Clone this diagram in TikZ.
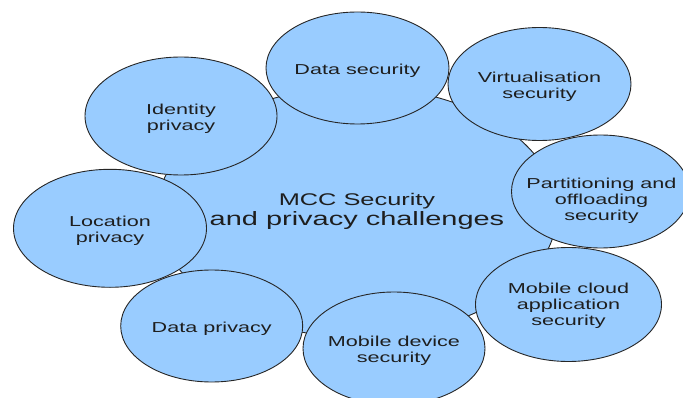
\documentclass[tikz,border=0pt]{standalone}
\usepackage{fontspec}
\newfontfamily\lsf[FakeStretch=1.5]{Liberation Sans}
\usetikzlibrary{shapes.geometric}
\definecolor{bubfill}{HTML}{99CCFF}
\definecolor{bubline}{HTML}{262626}
\definecolor{txt}{HTML}{1E1E1E}
\begin{document}
\begin{tikzpicture}[x=1pt,y=-1pt,
  bub/.style args={#1/#2}{ellipse, draw=bubline, line width=0.9pt, fill=bubfill,
    inner sep=0pt, minimum width=#1pt, minimum height=#2pt},
  lbl/.style={align=center, text=txt, inner sep=0pt,
    font=\fontsize{14.4}{16}\lsf}]
\useasboundingbox (0,0) rectangle (683,398);
\clip (0,0) rectangle (683,398);
% central shape
\node[bub=400/250] (core) at (357,212) {};
% surrounding bubbles
\node[bub=183/112] (ds)  at (357.5,68) {};
\node[bub=183/113] (vs)  at (539.5,84) {};
\node[bub=178/113] (pos) at (600.5,191.5) {};
\node[bub=186/114] (mca) at (568.5,304.5) {};
\node[bub=182/113] (mds) at (394,348.5) {};
\node[bub=182/112] (dp)  at (211.7,326) {};
\node[bub=193/118] (lp)  at (110,228.3) {};
\node[bub=192/118] (ip)  at (181,116) {};
% texts
\node[align=center, text=txt, inner sep=0pt, font=\fontsize{19.3}{19.3}\lsf] (coret) at (357,211.5)
  {{\fontsize{16.9}{19.3}\selectfont MCC Security}\\and privacy challenges};
\node[lbl] (dst)  at ([yshift=-2.5pt]ds.center)  {Data security};
\node[lbl] (vst)  at ([yshift=-2.5pt]vs.center)  {Virtualisation\\security};
\node[lbl] (post) at ([xshift=1pt,yshift=-9.5pt]pos.center) {Partitioning and\\offloading\\security};
\node[lbl] (mcat) at ([yshift=-1.5pt]mca.center) {Mobile cloud\\application\\security};
\node[lbl] (mdst) at ([yshift=-2.5pt]mds.center) {Mobile device\\security};
\node[lbl] (dpt)  at ([yshift=-2.5pt]dp.center)  {Data privacy};
\node[lbl] (lpt)  at ([yshift=-2.5pt]lp.center)  {Location\\privacy};
\node[lbl] (ipt)  at ([yshift=-2.5pt]ip.center)  {Identity\\privacy};
\end{tikzpicture}
\end{document}
